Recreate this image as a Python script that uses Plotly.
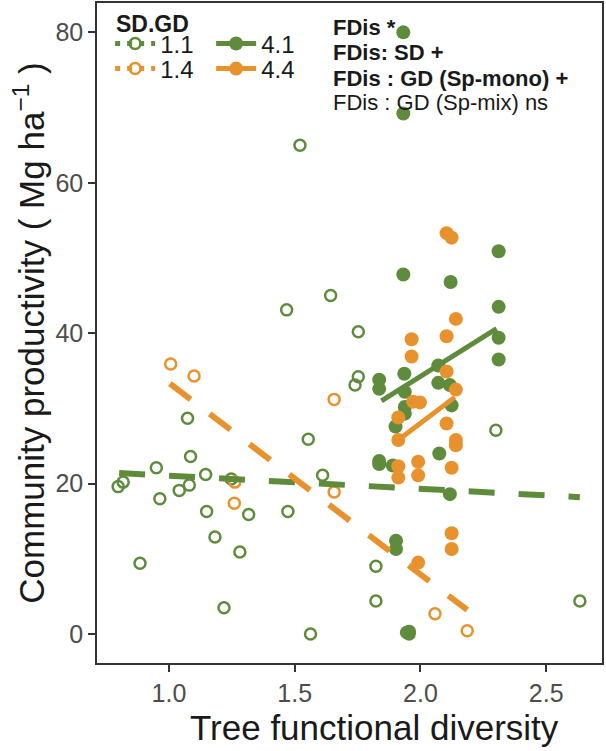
import plotly.graph_objects as go

# Tree functional diversity (FDis) vs community productivity, by SD.GD group
green = "#5E8C3C"
orange = "#E8922E"

# SD.GD 1.1 (open green)
g11_x = [1.521, 1.468, 1.643, 1.753, 1.074, 1.554, 1.086, 0.950, 1.146, 0.818,
         0.798, 1.041, 1.081, 1.248, 1.611, 0.964, 1.150, 1.317, 1.473, 1.183,
         1.282, 0.885, 1.219, 1.563, 1.753, 1.740, 2.300, 1.823, 1.823, 2.634,
         1.955, 1.945]
g11_y = [65.0, 43.1, 45.0, 40.2, 28.7, 25.9, 23.6, 22.1, 21.2, 20.2,
         19.6, 19.1, 19.8, 20.6, 21.1, 18.0, 16.3, 15.9, 16.3, 12.9,
         10.9, 9.4, 3.5, 0.0, 34.2, 33.1, 27.1, 9.0, 4.4, 4.4,
         0.0, 0.2]

# SD.GD 1.4 (open orange)
o14_x = [1.007, 1.100, 1.657, 1.260, 1.657, 2.058, 2.186, 1.262]
o14_y = [35.9, 34.3, 31.2, 17.4, 18.9, 2.7, 0.45, 20.2]

# SD.GD 4.1 (filled green)
g41_x = [1.932, 1.932, 2.311, 1.932, 2.120, 2.311, 2.311, 2.311, 1.936, 1.836,
         1.836, 2.071, 2.071, 2.117, 1.938, 1.938, 1.938, 2.124, 1.901, 2.075,
         1.836, 1.836, 2.117, 1.903, 1.903, 1.890, 1.955]
g41_y = [80.0, 69.2, 50.9, 47.8, 46.8, 43.5, 39.4, 36.5, 34.6, 33.8,
         32.6, 35.7, 33.4, 33.1, 32.2, 30.2, 29.3, 30.4, 27.6, 24.0,
         23.0, 22.6, 18.6, 12.4, 11.3, 22.4, 0.3]

# SD.GD 4.4 (filled orange)
o44_x = [2.104, 2.124, 2.141, 2.104, 1.965, 1.965, 2.104, 2.141, 1.971, 1.998,
         1.912, 2.104, 1.912, 2.141, 2.141, 2.124, 1.912, 1.912, 1.991, 1.991,
         2.124, 2.124, 1.991]
o44_y = [53.3, 52.7, 41.9, 39.6, 39.2, 36.9, 34.9, 32.5, 30.9, 30.8,
         28.8, 28.0, 25.8, 25.8, 25.1, 22.1, 22.3, 20.8, 22.9, 21.1,
         13.4, 11.3, 9.5]

# fitted lines (end points)
fit11_x, fit11_y = [0.802, 2.634], [21.4, 18.2]
fit14_x, fit14_y = [1.004, 2.186], [33.3, 3.2]
fit41_x, fit41_y = [1.845, 2.303], [31.0, 40.6]
fit44_x, fit44_y = [1.912, 2.137], [25.8, 31.5]

x_ticks = [1.0, 1.5, 2.0, 2.5]
y_ticks = [0, 20, 40, 60, 80]

annot_lines = ["<b>FDis *</b>", "<b>FDis: SD +</b>",
               "<b>FDis : GD (Sp-mono) +</b>", "FDis : GD (Sp-mix) ns"]

fig = go.Figure()

open_mk = lambda c: dict(symbol="circle-open", size=11, color=c, line=dict(width=2.5, color=c))
fill_mk = lambda c: dict(symbol="circle", size=14, color=c, line=dict(width=0))

# points
fig.add_trace(go.Scatter(x=g11_x, y=g11_y, mode="markers", marker=open_mk(green), showlegend=False))
fig.add_trace(go.Scatter(x=o14_x, y=o14_y, mode="markers", marker=open_mk(orange), showlegend=False))
fig.add_trace(go.Scatter(x=g41_x, y=g41_y, mode="markers", marker=fill_mk(green), showlegend=False))
fig.add_trace(go.Scatter(x=o44_x, y=o44_y, mode="markers", marker=fill_mk(orange), showlegend=False))

# fit lines
dash = "26px,24px"
fig.add_trace(go.Scatter(x=fit11_x, y=fit11_y, mode="lines", line=dict(color=green, width=6, dash=dash), showlegend=False))
fig.add_trace(go.Scatter(x=fit14_x, y=fit14_y, mode="lines", line=dict(color=orange, width=6, dash=dash), showlegend=False))
fig.add_trace(go.Scatter(x=fit41_x, y=fit41_y, mode="lines", line=dict(color=green, width=5), showlegend=False))
fig.add_trace(go.Scatter(x=fit44_x, y=fit44_y, mode="lines", line=dict(color=orange, width=5), showlegend=False))

# legend entries, one small legend per cell so the 2x2 grid sits like the original
fig.add_trace(go.Scatter(x=[None], y=[None], mode="lines+markers", name="1.1", legend="legend",
                         marker=open_mk(green), line=dict(color=green, width=5, dash="5px,7px")))
fig.add_trace(go.Scatter(x=[None], y=[None], mode="lines+markers", name="1.4", legend="legend2",
                         marker=open_mk(orange), line=dict(color=orange, width=5, dash="5px,7px")))
fig.add_trace(go.Scatter(x=[None], y=[None], mode="lines+markers", name="4.1", legend="legend3",
                         marker=fill_mk(green), line=dict(color=green, width=5)))
fig.add_trace(go.Scatter(x=[None], y=[None], mode="lines+markers", name="4.4", legend="legend4",
                         marker=fill_mk(orange), line=dict(color=orange, width=5)))

font = "Liberation Sans, Arial, sans-serif"
ann_y = [0.963, 0.925, 0.886, 0.849]
for txt, yy in zip(annot_lines, ann_y):
    fig.add_annotation(x=0.464, y=yy, xref="paper", yref="paper", text=txt, showarrow=False,
                       xanchor="left", yanchor="middle", font=dict(size=22, color="#1a1a1a"))

# legend title
fig.add_annotation(x=0.034, y=0.968, xref="paper", yref="paper", text="<b>SD.GD</b>", showarrow=False,
                   xanchor="left", yanchor="middle", font=dict(size=23, color="#1a1a1a"))

# x axis title
fig.add_annotation(x=0.549, y=-0.098, xref="paper", yref="paper", text="Tree functional diversity",
                   showarrow=False, xanchor="center", yanchor="middle", font=dict(size=35, color="#1a1a1a"))

axis_common = dict(showline=True, linecolor="#333333", linewidth=1.5, mirror=True,
                   ticks="outside", ticklen=7, tickwidth=1.5, tickcolor="#333333",
                   showgrid=False, zeroline=False, automargin=False,
                   tickfont=dict(size=25, color="#4D4D4D"))

leg_common = dict(xanchor="left", yanchor="middle", bgcolor="rgba(0,0,0,0)",
                  font=dict(size=24), itemwidth=40, tracegroupgap=0)
row1, row2 = 0.938, 0.900
col1, col2 = 0.026, 0.226

fig.update_layout(
    width=606, height=751,
    margin=dict(l=97, r=4, t=3, b=88),
    paper_bgcolor="white", plot_bgcolor="white",
    font=dict(family=font, color="#1a1a1a"),
    xaxis=dict(range=[0.714, 2.722], tickvals=x_ticks, ticktext=["1.0", "1.5", "2.0", "2.5"],
               **axis_common),
    yaxis=dict(range=[-3.85, 83.9], tickvals=y_ticks,
               title=dict(text="Community productivity ( Mg ha<sup>−1</sup> )", font=dict(size=35), standoff=0),
               **axis_common),
    legend=dict(x=col1, y=row1, **leg_common),
    legend2=dict(x=col1, y=row2, **leg_common),
    legend3=dict(x=col2, y=row1, **leg_common),
    legend4=dict(x=col2, y=row2, **leg_common),
)

# page body has a default margin; drop it so the figure sits at the window corner
fig.write_html("out.html", config={"displayModeBar": False},
               post_script="document.body.style.margin='0px';")
